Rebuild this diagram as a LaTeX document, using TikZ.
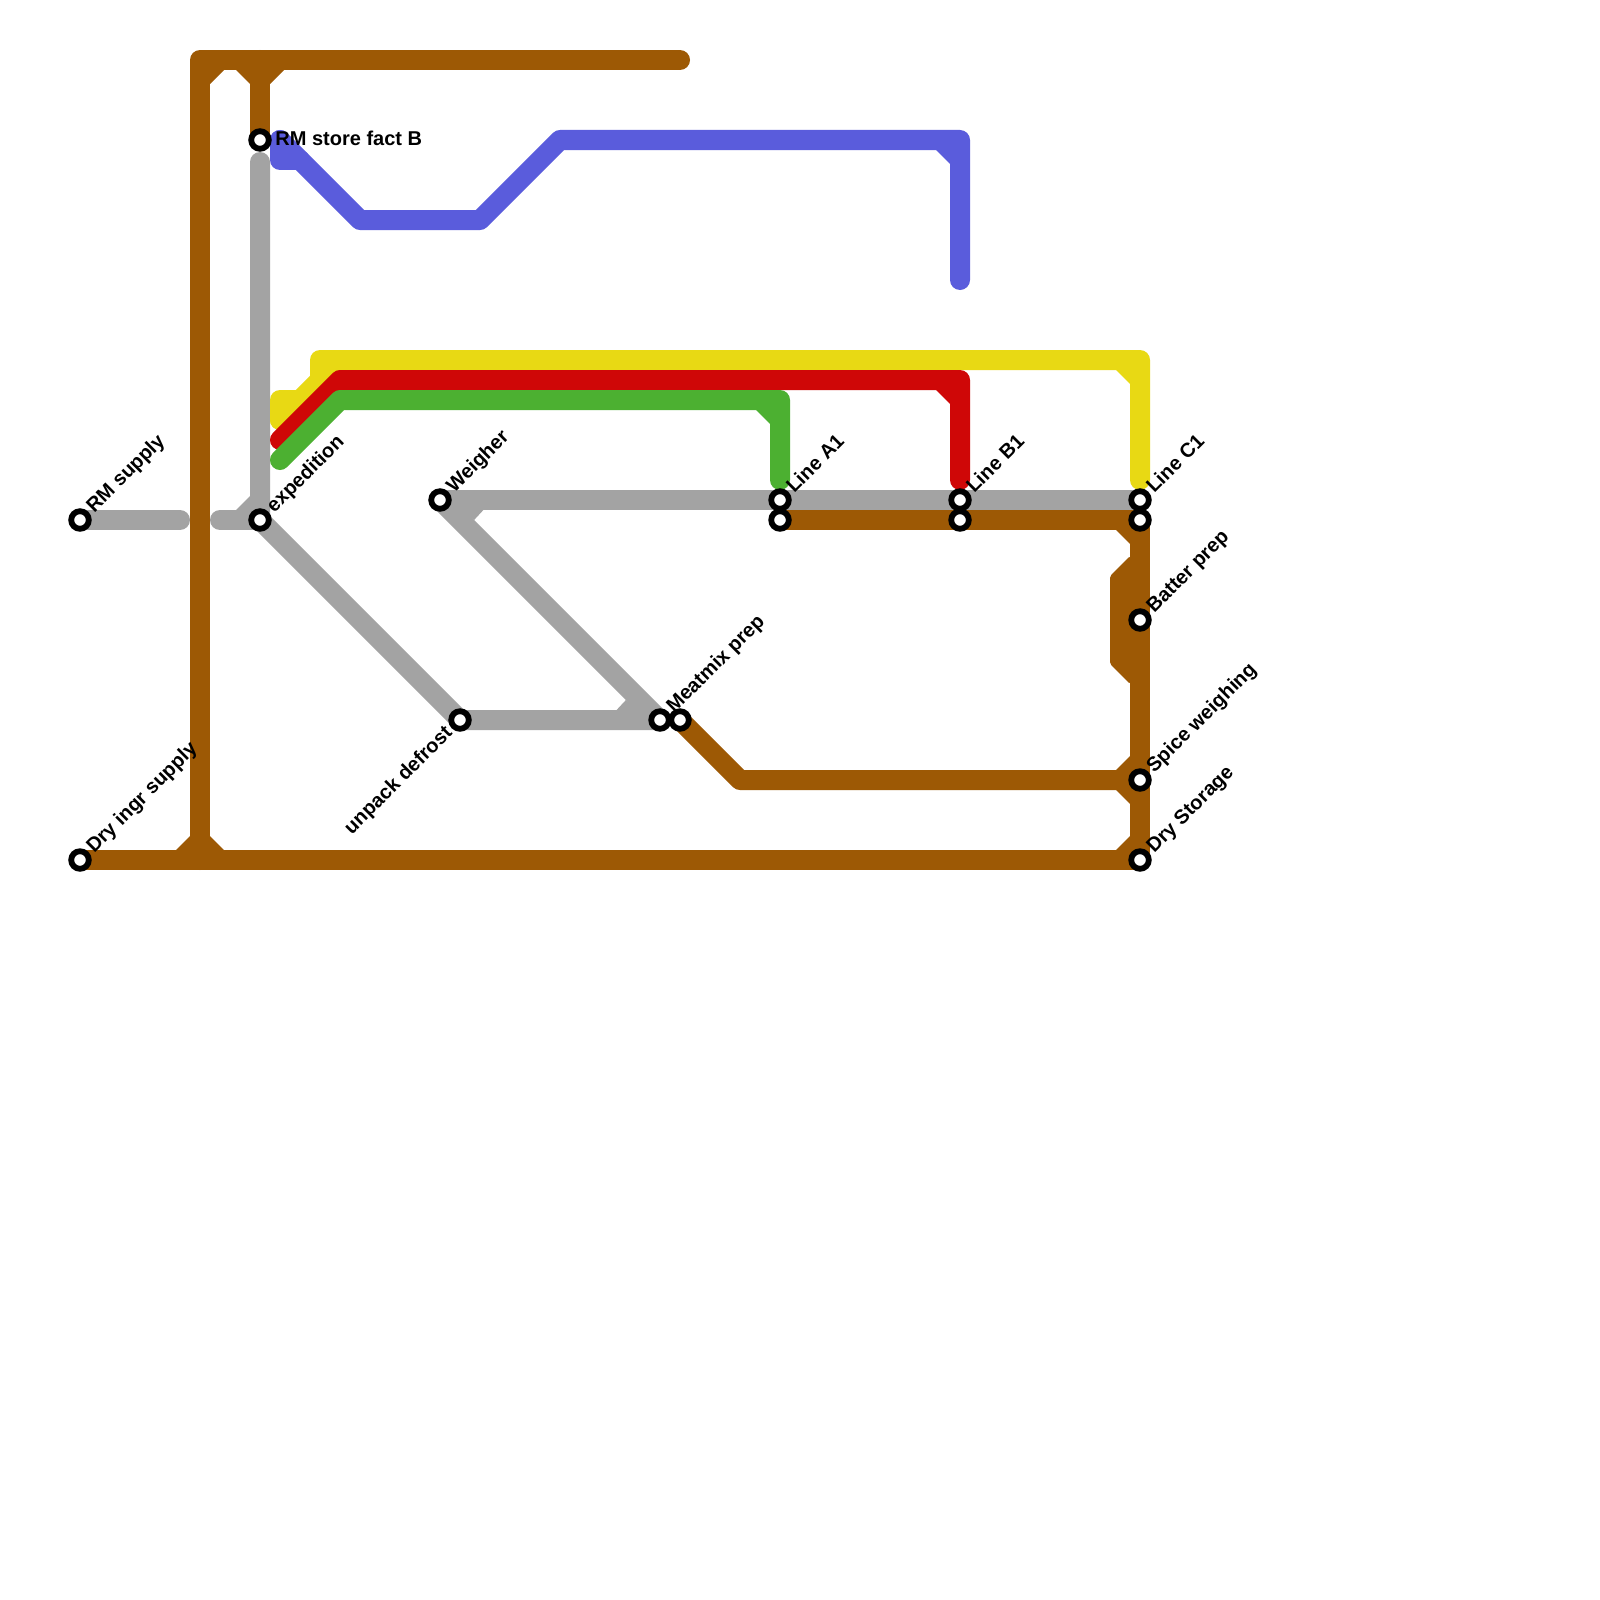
\documentclass[tikz,border=0pt]{standalone}
\usepackage{fontspec}
\setmainfont{Liberation Sans}
\definecolor{mbrown}{HTML}{9D5905}
\definecolor{mgray}{HTML}{A3A3A3}
\definecolor{mblue}{HTML}{5A5CDC}
\definecolor{myellow}{HTML}{E8D914}
\definecolor{mred}{HTML}{CF0707}
\definecolor{mgreen}{HTML}{4CB031}
\tikzset{
  track/.style={line width=10pt,line cap=round,line join=round},
  stn/.style={circle,draw=black,fill=white,line width=2.9pt,inner sep=0pt,outer sep=0pt,minimum size=8.8pt},
  lbl/.style={inner sep=0pt,font=\fontsize{10}{12}\selectfont\bfseries,text=black},
  dlbl/.style={lbl,rotate=45,anchor=base west},
}
\newcommand\chamf[5]{\fill[#5] (#1,#2) -- ++(14*#3,0) -- (#1,#2+14*#4) -- cycle;}
\begin{document}
\begin{tikzpicture}[x=0.5pt,y=-0.5pt]
\useasboundingbox[fill=white] (0,0) rectangle (1600,1600);
% free coordinates
\foreach \n/\x/\y in {tl/200/60,te/680/60,tm/260/60,bm/200/860,gs/180/520,gl/220/520,gv/260/162,gc/460/720,wj/660/720,
  ma/740/780,bk1/1120/580,bk2/1120/660,
  b1/280/140,b2/280/160,b3/300/160,b4/360/220,b5/480/220,b6/560/140,b7/960/140,b8/960/280,
  y1/280/400,y2/300/400,y3/280/420,y4/340/360,y5/320/360,y6/320/380,y7/1140/360,y8/1140/480,
  r1/280/440,r2/340/380,r3/960/380,r4/960/480,
  g1/280/460,g2/340/400,g3/780/400,g4/780/480}
  {\coordinate (\n) at (\x,\y);}
% stations' positions
\foreach \n/\x/\y in {srm/80/520,sdry/80/860,sstore/260/140,sexp/260/520,swei/440/500,sunp/460/720,smeat/660/720,smeatb/680/720,
  sa/780/500,sab/780/520,sb/960/500,sbb/960/520,sc/1140/500,scb/1140/520,sbat/1140/620,sspi/1140/780,sds/1140/860}
  {\coordinate (p\n) at (\x,\y);}
% brown
\draw[track,mbrown] (te) -- (tl) -- (bm);
\draw[track,mbrown] (tm) -- (psstore);
\draw[track,mbrown] (psdry) -- (psds) -- (pscb) -- (psab);
\draw[track,mbrown] (psmeatb) -- (ma) -- (psspi);
\chamf{210}{70}{1}{1}{mbrown}
\chamf{250}{70}{-1}{1}{mbrown}
\chamf{270}{70}{1}{1}{mbrown}
\chamf{190}{850}{-1}{-1}{mbrown}
\chamf{210}{850}{1}{-1}{mbrown}
\chamf{1130}{530}{-1}{1}{mbrown}
\chamf{1130}{770}{-1}{-1}{mbrown}
\chamf{1130}{790}{-1}{1}{mbrown}
\chamf{1130}{850}{-1}{-1}{mbrown}
\fill[mbrown,rounded corners=1pt] (1130,556) -- (1110,576) -- (1110,664) -- (1130,684) -- cycle;
% gray
\draw[track,mgray] (psrm) -- (gs);
\draw[track,mgray] (gl) -- (psexp);
\draw[track,mgray] (gv) -- (psexp) -- (gc) -- (wj);
\draw[track,mgray] (pswei) -- (psc);
\draw[track,mgray] (pswei) -- (wj);
\chamf{250}{510}{-1}{-1}{mgray}
\fill[mgray] (460,510) -- (483.4,510) -- (474.1,520) -- cycle;
\fill[mgray] (616.6,710) -- (625.9,700) -- (640,710) -- cycle;
% blue
\draw[track,mblue] (b1) -- (b4) -- (b5) -- (b6) -- (b7) -- (b8);
\draw[track,mblue] (b1) -- (b2) -- (b3);
\chamf{950}{150}{-1}{1}{mblue}
% yellow
\draw[track,myellow] (y3) -- (y4) -- (y7) -- (y8);
\draw[track,myellow] (y3) -- (y1) -- (y2);
\draw[track,myellow] (y6) -- (y5) -- (y4);
\chamf{1130}{370}{-1}{1}{myellow}
% red
\draw[track,mred] (r1) -- (r2) -- (r3) -- (r4);
\chamf{950}{390}{-1}{1}{mred}
% green
\draw[track,mgreen] (g1) -- (g2) -- (g3) -- (g4);
\chamf{770}{410}{-1}{1}{mgreen}
% stations
\foreach \n in {srm,sdry,sstore,sexp,swei,sunp,smeat,smeatb,sa,sab,sb,sbb,sc,scb,sbat,sspi,sds}
  {\node[stn] (\n) at (p\n) {};}
% labels
\node[lbl,anchor=base west] (lstore) at (275,146) {RM store fact B};
\node[dlbl] (lrm) at (94,514) {RM supply};
\node[dlbl] (ldry) at (94,854) {Dry ingr supply};
\node[dlbl] (lexp) at (274,514) {expedition};
\node[dlbl] (lwei) at (454,494) {Weigher};
\node[lbl,rotate=45,anchor=base east] (lunp) at (453.5,733.5) {unpack defrost};
\node[dlbl] (lmeat) at (674,714) {Meatmix prep};
\node[dlbl] (la) at (794,494) {Line A1};
\node[dlbl] (lb) at (974,494) {Line B1};
\node[dlbl] (lc) at (1154,494) {Line C1};
\node[dlbl] (lbat) at (1154,614) {Batter prep};
\node[dlbl] (lspi) at (1154,774) {Spice weighing};
\node[dlbl] (lds) at (1154,854) {Dry Storage};
\end{tikzpicture}
\end{document}
